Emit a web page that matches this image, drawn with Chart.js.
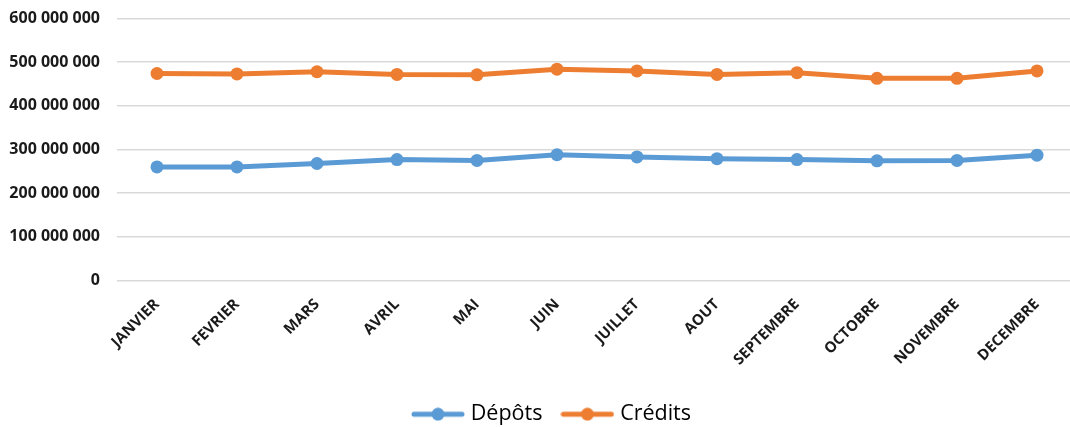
<!DOCTYPE html>
<html>
<head>
<meta charset="utf-8">
<script src="https://cdn.jsdelivr.net/npm/chart.js@4/dist/chart.umd.min.js"></script>
<style>
    html, body { margin: 0; padding: 0; background: #fff; }
    #wrap { width: 1070px; height: 427px; overflow: hidden; }
</style>
</head>
<body>
<div id="wrap">
    <canvas id="chart" width="1100" height="427"></canvas>
</div>
<script>
// Months (x axis)
const months = [
    'JANVIER', 'FEVRIER', 'MARS', 'AVRIL', 'MAI', 'JUIN',
    'JUILLET', 'AOUT', 'SEPTEMBRE', 'OCTOBRE', 'NOVEMBRE', 'DECEMBRE'
];

// Series values
const depots = [
    260000000, 260000000, 268000000, 277000000, 275000000, 288000000,
    283000000, 279000000, 277000000, 274000000, 275000000, 287000000
];
const credits = [
    474000000, 473000000, 478000000, 472000000, 471000000, 484000000,
    480000000, 472000000, 476000000, 463000000, 463000000, 480000000
];

const seriesNames = ['Dépôts', 'Crédits'];
const seriesColors = ['#5B9BD5', '#ED7D31'];

// Format 600000000 -> "600 000 000"
function formatNumber(v) {
    return String(v).replace(/\B(?=(\d{3})+(?!\d))/g, ' ');
}

// Legend marker: short line with a dot in the middle
function makeMarker(color) {
    const c = document.createElement('canvas');
    c.width = 54;
    c.height = 14;
    const g = c.getContext('2d');
    g.strokeStyle = color;
    g.lineWidth = 5;
    g.lineCap = 'round';
    g.beginPath();
    g.moveTo(3, 7);
    g.lineTo(51, 7);
    g.stroke();
    g.fillStyle = color;
    g.beginPath();
    g.arc(27, 7, 6.5, 0, Math.PI * 2);
    g.fill();
    return c;
}

// Let the y labels use the room left of the axis box (legend stays centred)
const yLabelRoom = {
    id: 'yLabelRoom',
    afterLayout(chart) {
        const s = chart.scales.y;
        s.left = 0;
        s.width = s.right;
    }
};

const ctx = document.getElementById('chart').getContext('2d');

new Chart(ctx, {
    type: 'line',
    data: {
        labels: months,
        datasets: [depots, credits].map((values, i) => ({
            label: seriesNames[i],
            data: values,
            borderColor: seriesColors[i],
            backgroundColor: seriesColors[i],
            borderWidth: 5,
            pointRadius: 6.5,
            pointHoverRadius: 6.5,
            pointBackgroundColor: seriesColors[i],
            pointBorderWidth: 0,
            tension: 0
        }))
    },
    options: {
        responsive: false,
        animation: false,
        layout: {
            padding: { left: 30, right: 23, top: 18.5, bottom: -8 }
        },
        scales: {
            x: {
                offset: true,
                grid: { display: false },
                border: { display: false },
                ticks: {
                    minRotation: 45,
                    maxRotation: 45,
                    autoSkip: false,
                    padding: 7,
                    color: '#1a1a1a',
                    font: { family: 'Open Sans', size: 15, weight: 'bold' }
                },
                afterFit: (scale) => { scale.height = 100; }
            },
            y: {
                min: 0,
                max: 600000000,
                grid: { color: '#d9d9d9', lineWidth: 1.5, drawTicks: false },
                border: { display: false },
                ticks: {
                    stepSize: 100000000,
                    padding: 17,
                    color: '#1a1a1a',
                    font: { family: 'Open Sans', size: 16, weight: 'bold' },
                    callback: (v) => formatNumber(v)
                },
                afterFit: (scale) => {
                    scale.width = 87;
                    scale.paddingTop = 0;
                    scale.paddingBottom = 0;
                }
            }
        },
        plugins: {
            tooltip: { enabled: false },
            legend: {
                position: 'bottom',
                labels: {
                    usePointStyle: true,
                    pointStyleWidth: 44,
                    padding: 23,
                    color: '#111',
                    font: { family: 'Open Sans', size: 21.5 },
                    generateLabels: (chart) => chart.data.datasets.map((ds, i) => ({
                        text: ds.label,
                        pointStyle: makeMarker(seriesColors[i]),
                        fillStyle: seriesColors[i],
                        strokeStyle: seriesColors[i],
                        lineWidth: 0,
                        datasetIndex: i,
                        hidden: false
                    }))
                }
            }
        }
    },
    plugins: [yLabelRoom]
});
</script>
</body>
</html>
